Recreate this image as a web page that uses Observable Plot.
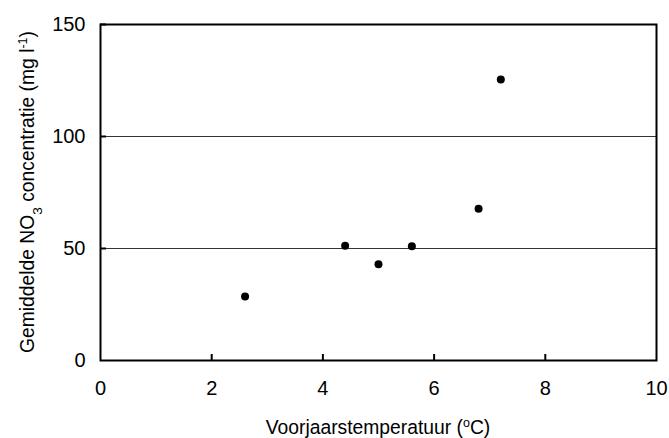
<!DOCTYPE html>
<html><head><meta charset="utf-8">
<script src="https://cdn.jsdelivr.net/npm/d3@7"></script>
<script src="https://cdn.jsdelivr.net/npm/@observablehq/plot@0.6"></script>
<style>body{margin:0;background:#fff}</style>
</head><body><div id="chart"></div>
<script>
const temperature = [2.6, 4.4, 5.0, 5.6, 6.8, 7.2];
const nitrate = [28.6, 51.2, 43.0, 51.0, 67.8, 125.4];
const xTicks = [0, 2, 4, 6, 8, 10];
const yTicks = [0, 50, 100, 150];
const xInnerTicks = [2, 4, 6, 8];
const yInnerTicks = [50, 100, 150];
const gridValues = [50, 100];
const yLabelParts = [["Gemiddelde NO", ""], ["3", "sub"], [" concentratie (mg l", ""], ["-1", "sup"], [")", ""]];
const xLabelParts = [["Voorjaarstemperatuur (", ""], ["o", "sup"], ["C)", ""]];

const data = temperature.map((t, i) => ({t, n: nitrate[i]}));
const W = 669, H = 438, mL = 100, mR = 13, mT = 24, mB = 78;
const font = "'Liberation Sans Narrow', 'Arial Narrow', 'Liberation Sans', sans-serif";

const svg = Plot.plot({
  width: W, height: H,
  marginLeft: mL, marginRight: mR, marginTop: mT, marginBottom: mB,
  style: {fontFamily: font, fontSize: "20px", background: "#fff", color: "#000"},
  x: {domain: [0, 10]},
  y: {domain: [0, 150]},
  marks: [
    Plot.ruleY(gridValues, {stroke: "#333", strokeWidth: 1}),
    Plot.tickX(xInnerTicks, {x: d => d, insetTop: (H - mT - mB) - 6, stroke: "#000", strokeWidth: 2}),
    Plot.tickY(yInnerTicks, {y: d => d, insetRight: (W - mL - mR) - 6, stroke: "#000", strokeWidth: 2}),
    Plot.frame({stroke: "#000", strokeWidth: 2}),
    Plot.dot(data, {x: "t", y: "n", r: 4, fill: "#000", stroke: "none"}),
    Plot.axisX(xTicks, {tickSize: 0, tickPadding: 20, label: null, fontSize: 20}),
    Plot.axisY(yTicks, {tickSize: 0, tickPadding: 15, label: null, fontSize: 20})
  ]
});

function addLabel(sel, parts) {
  parts.forEach(([txt, kind]) => {
    const ts = sel.append("tspan").text(txt);
    if (kind === "sub") ts.attr("baseline-shift", "sub").attr("font-size", "13.5px");
    if (kind === "sup") ts.attr("baseline-shift", "super").attr("font-size", "12.5px");
  });
}
const s = d3.select(svg);
const yl = s.append("text")
  .attr("transform", `translate(34,${(mT + H - mB) / 2}) rotate(-90)`)
  .attr("text-anchor", "middle").attr("font-family", font).attr("font-size", "19.3px").attr("fill", "#000");
addLabel(yl, yLabelParts);
const xl = s.append("text")
  .attr("x", (mL + W - mR) / 2).attr("y", 434)
  .attr("text-anchor", "middle").attr("font-family", font).attr("font-size", "19.3px").attr("fill", "#000");
addLabel(xl, xLabelParts);

document.getElementById("chart").appendChild(svg);
</script>
</body></html>
